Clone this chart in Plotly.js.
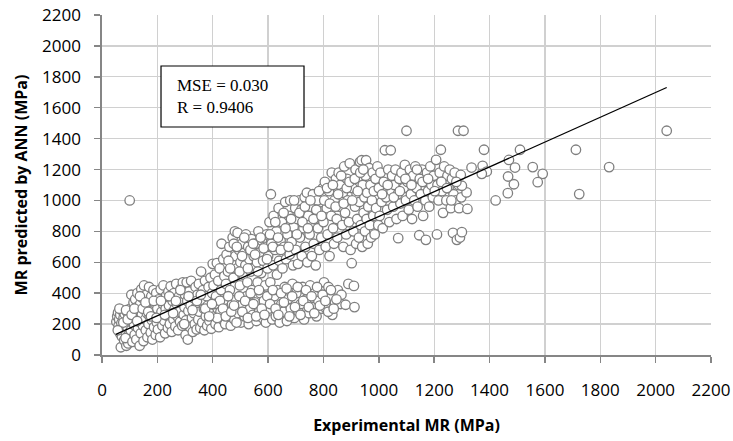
<!DOCTYPE html>
<html><head><meta charset="utf-8">
<script src="https://cdn.plot.ly/plotly-3.0.1.min.js"></script>
<style>html,body{margin:0;padding:0;background:#fff}</style>
</head><body><div id="chart" style="width:733px;height:441px"></div>
<script>
// Experimental MR (x) vs MR predicted by ANN (y), MPa
const expMR = [
52,55,58,60,62,65,66,68,70,72,74,75,78,80,82,84,86,88,90,92,94,96,98,100,95,85,
102,104,106,108,110,112,114,116,118,120,122,124,126,128,130,132,134,136,138,140,142,144,146,148,150,
152,154,156,158,160,162,164,166,168,170,172,174,176,178,180,182,184,186,188,190,192,194,196,198,200,
202,205,208,210,212,215,218,220,222,225,228,230,232,235,238,240,242,245,248,250,
252,255,258,260,262,265,268,270,272,275,278,280,282,285,288,290,292,295,298,300,
302,304,306,308,310,312,315,318,320,322,325,328,330,332,335,338,340,342,345,348,
350,352,355,358,360,362,365,368,370,372,375,378,380,382,385,388,390,392,395,398,
400,403,405,408,410,412,415,418,420,422,425,428,430,432,435,438,440,442,445,448,
450,452,455,458,460,462,465,468,470,472,475,478,480,482,485,488,490,492,495,498,
500,502,505,508,510,512,515,518,520,522,525,528,530,532,535,538,540,542,545,548,
550,552,555,558,560,562,565,568,570,572,575,578,580,582,585,588,590,592,595,598,
600,602,605,608,610,612,615,618,620,622,625,628,630,632,635,638,640,642,645,648,
650,652,655,658,660,662,665,668,670,672,675,678,680,682,685,688,690,692,695,698,
700,702,705,708,710,712,715,718,720,722,725,728,730,732,735,738,740,742,745,748,
750,752,755,758,760,762,765,768,770,772,775,778,780,782,785,788,790,792,795,798,
800,802,805,808,810,812,815,818,820,822,825,828,830,832,835,838,840,842,845,848,
850,852,855,858,860,862,865,868,870,872,875,878,880,882,885,888,890,892,895,898,
902,905,908,910,912,914,916,918,920,922,925,928,930,932,935,938,940,942,945,948,
950,952,954,956,958,960,962,965,968,970,972,975,978,980,982,985,988,990,995,998,
1000,1003,1006,1010,1014,1018,1022,1026,1030,1034,1038,1043,1046,1048,
1052,1056,1060,1064,1068,1070,1074,1078,1082,1086,1090,1094,1098,1100,
1104,1108,1112,1116,1120,1124,1128,1132,1136,1140,1146,1148,
1152,1156,1160,1164,1168,1170,1174,1178,1182,1186,1190,1195,1198,
1207,1210,1212,1216,1220,1224,1228,1232,1236,1240,1244,1248,
1252,1256,1260,1264,1268,1270,1274,1278,1282,1286,1288,1290,1293,1296,1298,
1300,1306,1317,1320,1335,1375,1390,1372,1380,1300,
1422,1470,1467,1488,1466,1492,1510,1556,1592,1574,1712,1724,1832,2040,
457,463,476,487,497,506,514,527,536,546,553,563,573,584,596,607,617,626,636,646,
656,663,674,683,694,704,713,724,733,744,753,764,774,784,793,803,813,823,834,844,853,864,873,884,894,904,913,924,933,944,
407,416,426,437,447,456,467,477,486,496,507,517,527,537,547,557,567,577,587,597,607,617,627,637,647,
657,667,677,687,697,707,717,727,737,747,757,767,777,787,797,807,817,827,837,847,
57,63,77,87,93,107,117,127,137,147,157,167,177,187,197,213,227,243,257,267,283,297,313,327,343,357,373,387,397,
1012,1032,1054,1076,1096,1118,1138,1158,1178,1202,1226,1246,1262,1280
];
const annMR = [
215,250,275,190,230,140,260,50,205,120,285,170,240,95,265,150,210,60,280,180,125,250,225,1000,75,110,
300,160,390,230,85,270,340,195,130,360,250,100,310,400,175,285,215,60,330,140,425,260,370,190,90,
450,305,230,160,390,270,115,345,200,440,250,310,145,380,225,100,290,420,180,335,260,130,400,210,300,
165,360,240,115,425,280,190,330,450,220,140,300,385,255,175,410,320,200,445,270,
150,350,230,400,295,185,460,330,250,160,380,280,215,430,340,190,470,260,310,390,
130,225,470,350,100,285,410,180,320,480,240,150,370,270,200,440,310,165,390,230,
460,280,175,540,350,210,420,300,160,480,250,380,190,320,440,220,270,500,170,400,
590,450,250,520,200,380,595,300,480,180,560,280,420,720,230,620,350,510,200,460,
650,300,540,250,700,420,190,600,330,760,500,230,800,640,360,560,790,270,680,450,
600,210,720,330,520,660,250,580,780,380,470,700,200,620,300,540,750,420,260,640,
560,340,720,220,600,470,800,280,660,400,530,740,240,610,350,700,450,210,780,560,
640,300,860,470,1040,720,230,580,900,380,680,250,800,520,420,950,610,210,740,330,
860,560,280,700,440,990,620,220,780,360,900,650,1000,300,730,460,580,830,240,950,
680,400,880,590,280,1000,760,330,940,640,440,820,230,1020,700,360,1050,600,900,270,
780,450,960,640,310,1040,720,400,880,580,250,1000,820,350,680,930,430,760,300,1080,
860,470,1120,700,300,950,780,440,1060,640,380,900,1180,260,820,720,1000,340,1140,880,
760,420,1180,960,1100,330,390,840,1050,700,1220,920,325,780,1140,1000,460,860,1240,680,
594,1080,800,447,310,960,1200,720,1040,880,1150,760,990,1250,840,1260,700,1100,920,1020,
800,1160,1260,880,1050,720,960,1210,840,1100,760,1000,1180,900,1060,780,1140,950,1220,840,
1080,900,1180,990,820,1120,1325,1020,940,1200,860,1325,1060,1160,
960,1100,1200,880,1040,756,1140,980,1180,900,1080,1230,1000,1451,
1120,940,1200,1040,880,1160,1000,1220,1080,960,775,1140,
1040,1200,900,1120,1000,745,1180,1060,960,1220,1100,1020,1160,
1263,780,1100,1000,1180,1328,1060,920,1220,1120,1000,1160,
1080,1200,950,1140,790,1040,1180,1000,745,1451,1100,950,760,1165,1020,
795,1451,1052,945,1213,1224,1187,1172,1328,1095,
1000,1262,1155,1105,1047,1213,1328,1216,1172,1118,1328,1041,1216,1451,
610,560,720,700,540,640,760,560,680,720,650,540,760,690,620,780,700,860,760,680,
920,820,700,880,1000,780,920,860,960,820,1000,880,940,1060,900,1000,1080,980,1100,960,1040,1160,980,1080,1120,1000,1140,1060,1180,1200,
330,240,350,300,250,380,280,320,210,380,280,350,240,400,330,250,420,300,260,380,330,420,300,260,400,
340,430,250,380,310,440,260,350,420,310,380,270,440,320,390,350,280,420,300,360,
160,300,210,290,230,260,300,220,380,300,340,280,250,350,240,350,260,380,270,350,420,200,380,290,350,390,300,250,330,
1040,1100,1020,1060,1140,1100,1200,1120,1140,1060,1120,1080,1000,1120
];
// regression line end points
const fitX = [50, 2040];
const fitY = [134, 1731];
const xTicks = [0,200,400,600,800,1000,1200,1400,1600,1800,2000,2200];
const yTicks = [0,200,400,600,800,1000,1200,1400,1600,1800,2000,2200];
const statsLines = ['MSE = 0.030', 'R = 0.9406'];

const tickFont = {family: 'Open Sans, sans-serif', size: 17, color: '#000'};
const titleFont = {family: 'Open Sans, sans-serif', size: 16, color: '#000'};

const data = [
  {x: expMR, y: annMR, type: 'scatter', mode: 'markers', cliponaxis: false,
   marker: {symbol: 'circle', size: 9.5, color: '#ffffff', line: {color: '#7f7f7f', width: 1.3}},
   hoverinfo: 'skip', showlegend: false},
  {x: fitX, y: fitY, type: 'scatter', mode: 'lines',
   line: {color: '#000', width: 1.3}, hoverinfo: 'skip', showlegend: false}
];

const axisBase = {
  range: [0, 2200], tickmode: 'array', showgrid: true, gridcolor: '#d0d0d0', gridwidth: 1.2,
  zeroline: false, showline: true, linecolor: '#868686', linewidth: 1.6,
  ticks: 'outside', ticklen: 6, tickcolor: '#868686', tickwidth: 1.4,
  tickfont: tickFont, fixedrange: true
};

const layout = {
  width: 733, height: 441,
  margin: {l: 102, r: 22, t: 15, b: 86},
  paper_bgcolor: '#fff', plot_bgcolor: '#fff',
  showlegend: false,
  xaxis: Object.assign({}, axisBase, {
    tickvals: xTicks, ticktext: xTicks.map(String), ticklabelstandoff: 13,
    title: {text: '<b>Experimental MR (MPa)</b>', font: titleFont, standoff: 20}
  }),
  yaxis: Object.assign({}, axisBase, {
    tickvals: yTicks, ticktext: yTicks.map(String), ticklabelstandoff: 10,
    title: {text: '<b>MR predicted by ANN (MPa)</b>', font: titleFont, standoff: 10}
  }),
  shapes: [{type: 'rect', xref: 'paper', yref: 'paper', x0: 0.0969, x1: 0.3317, y0: 0.6706, y1: 0.85,
            line: {color: '#000', width: 1.2}, fillcolor: '#fff', layer: 'above'}],
  annotations: [{xref: 'paper', yref: 'paper', x: 0.1199, y: 0.760, xanchor: 'left', yanchor: 'middle',
                 align: 'left', showarrow: false, text: statsLines.join('<br>'),
                 font: {family: 'Liberation Serif, Times New Roman, serif', size: 17, color: '#000'}}]
};

Plotly.newPlot('chart', data, layout, {staticPlot: true, displayModeBar: false});
</script>
</body></html>
